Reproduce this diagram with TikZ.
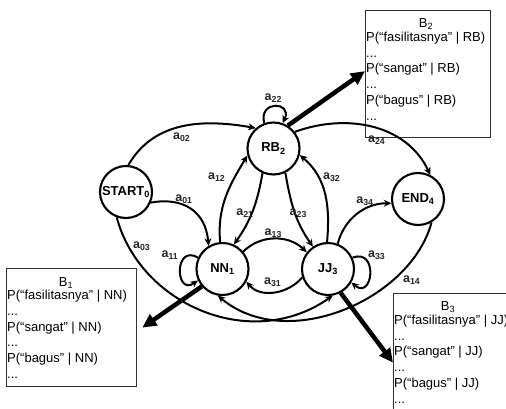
\documentclass[tikz,border=0pt]{standalone}
\usepackage{fontspec}
\setmainfont{Liberation Sans}
\usetikzlibrary{arrows.meta}
\newcommand\bxdots{...}
\begin{document}
\begin{tikzpicture}[x=1pt,y=1pt,
  state/.style={circle,draw,line width=2.1pt,minimum size=52pt,inner sep=0pt,font=\fontsize{13}{15}\selectfont\bfseries},
  edge/.style={line width=2pt,-{Stealth[length=7.5pt,width=7pt]}},
  elab/.style={font=\fontsize{12.5}{14}\selectfont\bfseries,inner sep=0pt,text=black!85},
  bbox/.style={draw=black!80,line width=1.3pt,inner sep=0pt,anchor=north west},
  btxt/.style={font=\fontsize{13}{15.8}\selectfont,inner sep=0pt,anchor=base west},
  bttl/.style={font=\fontsize{13}{15.8}\selectfont,inner sep=0pt,anchor=base},
  big/.style={line width=4.5pt,-{Triangle[length=14pt,width=13pt]}}
]
\useasboundingbox (0,0) rectangle (506,-408);
\clip (0,0) rectangle (506,-408);

% states
\node[state] (s)  at (126,-192)   {START\textsubscript{0}};
\node[state] (rb) at (273.5,-148.5) {RB\textsubscript{2}};
\node[state] (nn) at (222.5,-269) {NN\textsubscript{1}};
\node[state] (jj) at (328,-269)   {JJ\textsubscript{3}};
\node[state] (en) at (418,-199)   {END\textsubscript{4}};

% emission boxes
\node[bbox, minimum width=130pt, minimum height=118pt] (b1) at (6,-268) {};
\node[bbox, minimum width=125pt, minimum height=127pt] (b2) at (365,-10) {};
\node[bbox, minimum width=140pt, minimum height=130pt] (b3) at (393,-293) {};

\node[bttl] (b1t) at (66,-286) {B\textsubscript{1}};
\node[btxt] (b1l1) at (7,-299.5) {P(“fasilitasnya” | NN)};
\node[btxt] (b1l2) at (7,-315.3) {\bxdots};
\node[btxt] (b1l3) at (7,-331.1) {P(“sangat” | NN)};
\node[btxt] (b1l4) at (7,-346.9) {\bxdots};
\node[btxt] (b1l5) at (7,-362.7) {P(“bagus” | NN)};
\node[btxt] (b1l6) at (7,-378.5) {\bxdots};

\node[bttl] (b2t) at (426,-27.5) {B\textsubscript{2}};
\node[btxt] (b2l1) at (366,-41.3)  {P(“fasilitasnya” | RB)};
\node[btxt] (b2l2) at (366,-57.1)  {\bxdots};
\node[btxt] (b2l3) at (366,-72.9)  {P(“sangat” | RB)};
\node[btxt] (b2l4) at (366,-88.7)  {\bxdots};
\node[btxt] (b2l5) at (366,-104.5) {P(“bagus” | RB)};
\node[btxt] (b2l6) at (366,-120.3) {\bxdots};

\node[bttl] (b3t) at (448,-310) {B\textsubscript{3}};
\node[btxt] (b3l1) at (394,-324.3) {P(“fasilitasnya” | JJ)};
\node[btxt] (b3l2) at (394,-340.1) {\bxdots};
\node[btxt] (b3l3) at (394,-355.9) {P(“sangat” | JJ)};
\node[btxt] (b3l4) at (394,-371.7) {\bxdots};
\node[btxt] (b3l5) at (394,-387.5) {P(“bagus” | JJ)};
\node[btxt] (b3l6) at (394,-403.3) {\bxdots};

% transitions
\draw[edge] (s.85) to[out=60,in=170] (rb.131);
\draw[edge] (s.-23) to[out=10,in=95,looseness=1.2] (nn.121);
\draw[edge] (s.-110) .. controls +(-75:90) and +(-145:100) .. (jj.-80);
\draw[edge] (en.-60) .. controls +(-105:80) and +(-40:90) .. (nn.-100);
\draw[edge] (rb.38) to[out=20,in=115] (en.63);
\draw[edge] (nn.95) to[out=95,in=-121] (rb.195);
\draw[edge] (rb.-114) to[out=-100,in=55] (nn.65);
\draw[edge] (rb.-64) to[out=-80,in=125] (jj.124);
\draw[edge] (jj.92) to[out=85,in=-40] (rb.-14);
\draw[edge] (nn.40) to[out=45,in=135] (jj.142);
\draw[edge] (jj.-162) to[out=-130,in=-50] (nn.-28);
\draw[edge] (jj.69) to[out=75,in=180] (en.189);
\draw[edge] (nn.155) .. controls +(150:28) and +(215:28) .. (nn.205);
\draw[edge] (rb.110) .. controls +(105:24) and +(65:24) .. (rb.70);
\draw[edge] (jj.25) .. controls +(20:28) and +(-40:28) .. (jj.-30);

% emission arrows
\draw[big] (rb.58) -- ([yshift=3pt]b2.west);
\draw[big] (nn.220) -- ([xshift=5pt]b1.east);
\draw[big] (jj.-62) -- ([yshift=-4pt]b3.west);

% transition labels
\node[elab] (l02) at (181.7,-136.7) {a\textsubscript{02}};
\node[elab] (l01) at (184,-199)     {a\textsubscript{01}};
\node[elab] (l03) at (141.7,-246)   {a\textsubscript{03}};
\node[elab] (l11) at (170,-255)     {a\textsubscript{11}};
\node[elab] (l12) at (216.7,-176.7) {a\textsubscript{12}};
\node[elab] (l21) at (245,-213)     {a\textsubscript{21}};
\node[elab] (l22) at (273.3,-98.3)  {a\textsubscript{22}};
\node[elab] (l24) at (376.7,-140)   {a\textsubscript{24}};
\node[elab] (l32) at (331.7,-176.7) {a\textsubscript{32}};
\node[elab] (l23) at (298.3,-213.3) {a\textsubscript{23}};
\node[elab] (l34) at (365,-200.7)   {a\textsubscript{34}};
\node[elab] (l13) at (273.3,-233.3) {a\textsubscript{13}};
\node[elab] (l31) at (272.7,-281.7) {a\textsubscript{31}};
\node[elab] (l33) at (376.7,-255)   {a\textsubscript{33}};
\node[elab] (l14) at (411.7,-280)   {a\textsubscript{14}};
\end{tikzpicture}
\end{document}
